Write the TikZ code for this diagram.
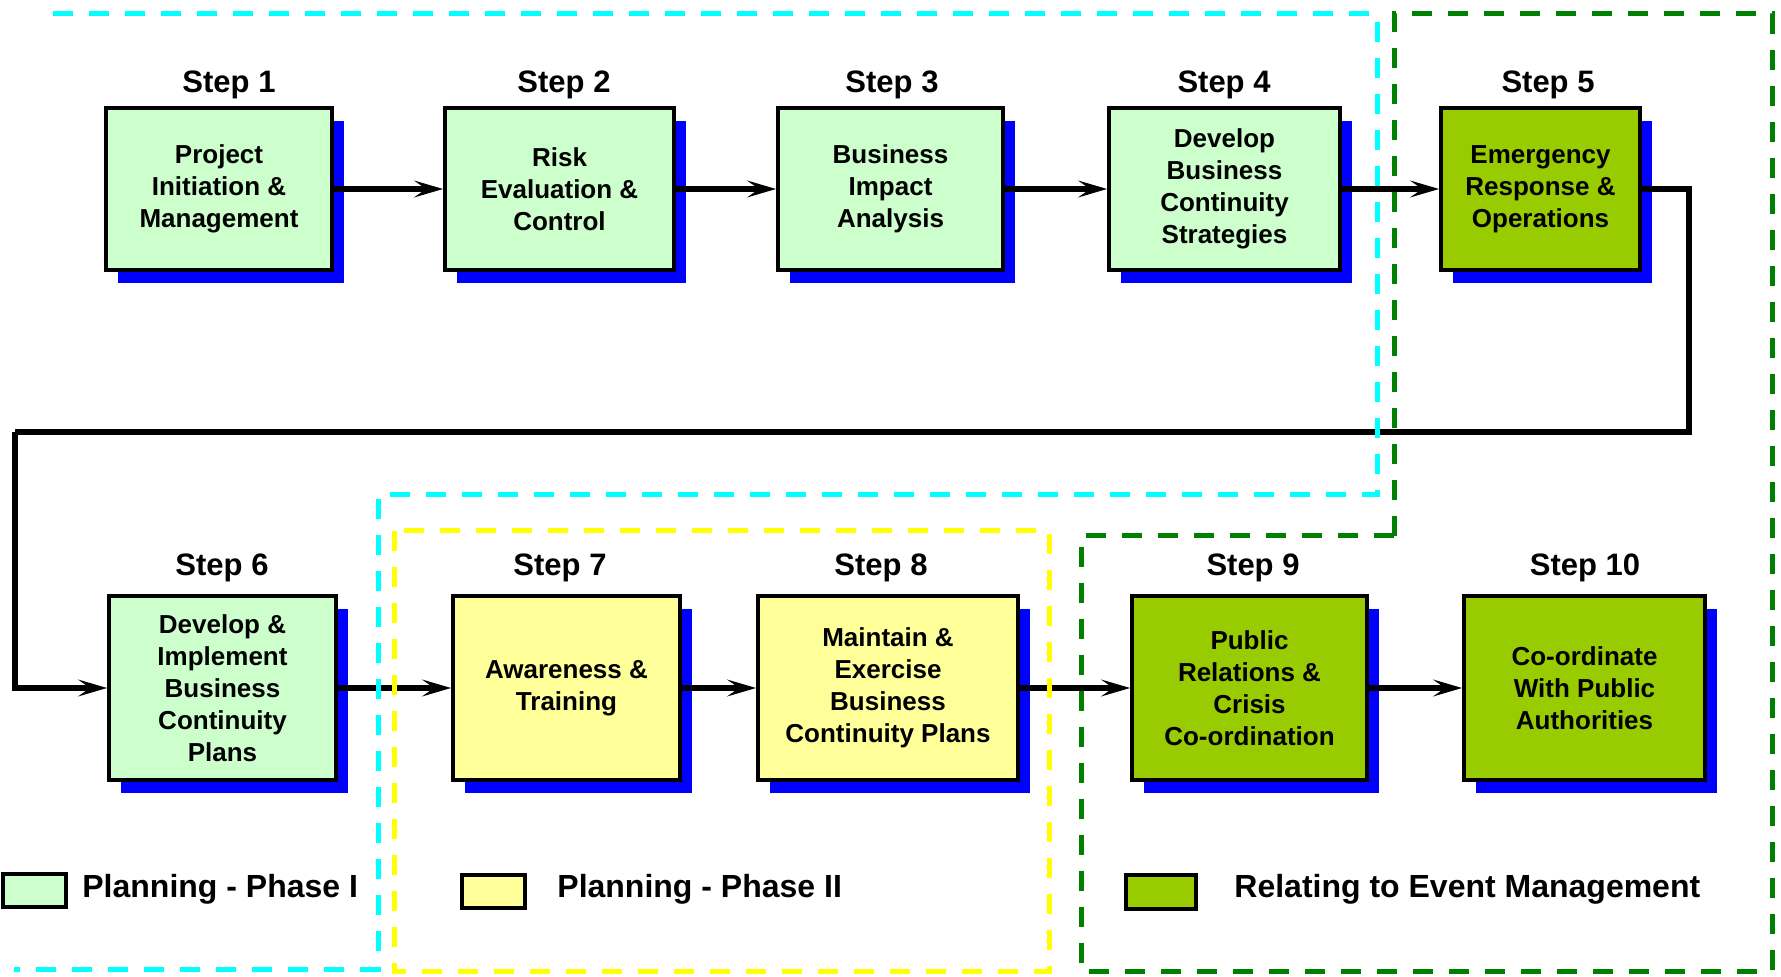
\documentclass[tikz,border=0pt]{standalone}
\usepackage{fontspec}
\setmainfont{Liberation Sans}
\usetikzlibrary{arrows.meta,shadows}
\definecolor{pgreen}{HTML}{CCFFCC}
\definecolor{pyellow}{HTML}{FFFF99}
\definecolor{olive}{HTML}{99CC00}
\definecolor{dcyan}{HTML}{00FFFF}
\definecolor{dyellow}{HTML}{FFFF00}
\definecolor{dgreen}{HTML}{008000}
\begin{document}
\begin{tikzpicture}[x=0.5pt,y=-0.5pt,
  stepbox/.style={draw=black, line width=2pt, align=center, inner sep=0pt,
    font=\fontsize{13}{16}\selectfont\bfseries,
    drop shadow={shadow xshift=6pt, shadow yshift=-6.5pt, fill=blue, opacity=1, draw=none}},
  bsize/.style 2 args={minimum width=#1*0.5pt, minimum height=#2*0.5pt},
  steplabel/.style={inner sep=0pt, font=\fontsize{15.5}{18}\selectfont\bfseries},
  legbox/.style={draw=black, line width=2pt, inner sep=0pt},
  legtext/.style={anchor=west, inner sep=0pt, font=\fontsize{16}{19}\selectfont\bfseries},
  conn/.style={line width=2.8pt, -{Stealth[length=14.5pt,width=8.5pt,inset=6pt,line width=0.5pt]}},
  connline/.style={line width=2.8pt, line join=miter},
  region/.style={line width=2.5pt, dash pattern=on 10pt off 8pt}
]
\fill[white] (0,0) rectangle (1781,977);
\useasboundingbox (0,0) rectangle (1781,977);

% row 1 boxes
\node[stepbox, fill=pgreen, bsize={226}{162}] (b1) at (219,189) {Project\\Initiation \&\\Management};
\node[stepbox, fill=pgreen, bsize={229}{162}] (b2) at (559.5,189) {Risk\\Evaluation \&\\Control};
\node[stepbox, fill=pgreen, bsize={225}{162}] (b3) at (890.5,189) {Business\\Impact\\Analysis};
\node[stepbox, fill=pgreen, bsize={231}{162}] (b4) at (1224.5,189) {Develop\\Business\\Continuity\\Strategies};
\node[stepbox, fill=olive, bsize={199}{162}] (b5) at (1540.5,189) {Emergency\\Response \&\\Operations};

% row 2 boxes
\node[stepbox, fill=pgreen, bsize={227}{184}] (b6) at (222.5,688) {Develop \&\\Implement\\Business\\Continuity\\Plans};
\node[stepbox, fill=pyellow, bsize={227}{184}] (b7) at (566.5,688) {Awareness \&\\Training};
\node[stepbox, fill=pyellow, bsize={260}{184}] (b8) at (888,688) {Maintain \&\\Exercise\\Business\\Continuity Plans};
\node[stepbox, fill=olive, bsize={235}{184}] (b9) at (1249.5,688) {Public\\Relations \&\\Crisis\\Co-ordination};
\node[stepbox, fill=olive, bsize={241}{184}] (b10) at (1584.5,688) {Co-ordinate\\With Public\\Authorities};

% step labels
\node[steplabel] (s1) at (229,85) {Step 1};
\node[steplabel] (s2) at (564,85) {Step 2};
\node[steplabel] (s3) at (892,85) {Step 3};
\node[steplabel] (s4) at (1224,85) {Step 4};
\node[steplabel] (s5) at (1548,85) {Step 5};
\node[steplabel] (s6) at (222,568) {Step 6};
\node[steplabel] (s7) at (560,568) {Step 7};
\node[steplabel] (s8) at (881,568) {Step 8};
\node[steplabel] (s9) at (1253,568) {Step 9};
\node[steplabel] (s10) at (1585,568) {Step 10};

% connectors
\draw[conn] (b1.east) -- (b2.west);
\draw[conn] (b2.east) -- (b3.west);
\draw[conn] (b3.east) -- (b4.west);
\draw[conn] (b4.east) -- (b5.west);
\coordinate (k1) at (1689,432);
\coordinate (k2) at (15,432);
\draw[connline] (b5.east) -| (k1) -- (k2);
\draw[conn] (k2) |- (b6.west);
\draw[conn] (b6.east) -- (b7.west);
\draw[conn] (b7.east) -- (b8.west);
\draw[conn] (b8.east) -- (b9.west);
\draw[conn] (b9.east) -- (b10.west);

% legend
\node[legbox, fill=pgreen, minimum width=31.5pt, minimum height=16.5pt] (l1) at (34,890.5) {};
\node[legtext] (t1) at (82,889) {Planning - Phase I};
\node[legbox, fill=pyellow, minimum width=31.5pt, minimum height=16.5pt] (l2) at (493.5,891) {};
\node[legtext] (t2) at (557,889) {Planning - Phase II};
\node[legbox, fill=olive, minimum width=35pt, minimum height=17pt] (l3) at (1161,891.5) {};
\node[legtext] (t3) at (1234,889) {Relating to Event Management};

% dashed regions
\draw[region, draw=dcyan] (53,14) -- (1377,14) -- (1377,495) -- (378,495) -- (378,969) -- (14,969);
\draw[region, draw=dyellow] (394,531) rectangle (1049,971);
\draw[region, draw=dgreen] (1394,536) -- (1394,14) -- (1772,14) -- (1772,971) -- (1081,971) -- (1081,536) -- cycle;
\end{tikzpicture}
\end{document}
